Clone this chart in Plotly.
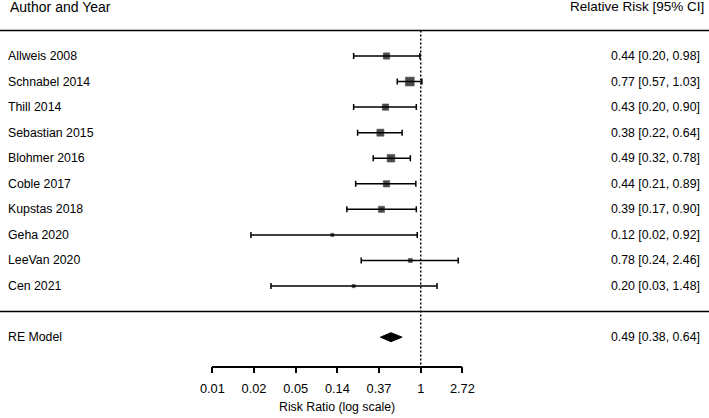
import numpy as np
import plotly.graph_objects as go

# ---------------- data ----------------
studies = ["Allweis 2008", "Schnabel 2014", "Thill 2014", "Sebastian 2015", "Blohmer 2016",
           "Coble 2017", "Kupstas 2018", "Geha 2020", "LeeVan 2020", "Cen 2021"]
rr = [0.44, 0.77, 0.43, 0.38, 0.49, 0.44, 0.39, 0.12, 0.78, 0.20]
ci_lo = [0.20, 0.57, 0.20, 0.22, 0.32, 0.21, 0.17, 0.017, 0.24, 0.0275]
ci_hi = [0.98, 1.03, 0.90, 0.64, 0.78, 0.89, 0.90, 0.92, 2.46, 1.48]

re_label = "RE Model"
re_est, re_lo, re_hi = 0.49, 0.38, 0.64

tick_exponents = [-5, -4, -3, -2, -1, 0, 1]
tick_labels = ["0.01", "0.02", "0.05", "0.14", "0.37", "1", "2.72"]

header_left = "Author and Year"
header_right = "Relative Risk [95% CI]"
axis_title = "Risk Ratio (log scale)"

# ---------------- style ----------------
marker_sizes = [6.3, 8.8, 6.3, 7, 7.6, 6.3, 6.1, 3.2, 4, 3.2]
FONT = "Liberation Sans, Arial, Helvetica, sans-serif"
W, H = 709, 418
LOG10E = np.log10(np.e)

k = len(studies)
rows = list(range(k, 0, -1))
re_row = -1

# pixel mapping -> axis ranges
px_zero, px_per_ln = 420.7, 41.67
x_range = [(-px_zero / px_per_ln) * LOG10E, ((W - px_zero) / px_per_ln) * LOG10E]
py_row0, py_per_row = 311.6, 25.56
y_range = [(py_row0 - H) / py_per_row, py_row0 / py_per_row]
axis_row = (py_row0 - 366.7) / py_per_row

fig = go.Figure()

# reference line at RR = 1
fig.add_trace(go.Scatter(x=[1, 1], y=[k + 1, axis_row], mode="lines",
                         line=dict(color="black", width=1.5, dash="2px,2px"),
                         hoverinfo="skip", showlegend=False))

# study estimates with CIs
fig.add_trace(go.Scatter(
    x=rr, y=rows, mode="markers",
    marker=dict(symbol="square", size=marker_sizes, color="black",
                line=dict(width=0.6, color="black")),
    error_x=dict(type="data", symmetric=False,
                 array=[h - e for h, e in zip(ci_hi, rr)],
                 arrayminus=[e - l for e, l in zip(rr, ci_lo)],
                 color="black", thickness=1.5, width=3),
    showlegend=False, hoverinfo="skip"))

# summary diamond
dh = 0.175
fig.add_trace(go.Scatter(
    x=[re_lo, re_est, re_hi, re_est, re_lo],
    y=[re_row, re_row + dh, re_row, re_row - dh, re_row],
    mode="lines", fill="toself", fillcolor="black",
    line=dict(color="black", width=1), showlegend=False, hoverinfo="skip"))

# dummy trace for the bottom axis
fig.add_trace(go.Scatter(x=[1], y=[None], xaxis="x2", yaxis="y", mode="markers",
                         showlegend=False, hoverinfo="skip"))

# horizontal rules
for yr in (k + 1, 0):
    fig.add_shape(type="line", xref="paper", x0=0, x1=1, yref="y", y0=yr, y1=yr,
                  line=dict(color="black", width=1.5))

ann = []
body = dict(family=FONT, size=12.3, color="black")
for name, r, e, l, h in zip(studies, rows, rr, ci_lo, ci_hi):
    ann.append(dict(text=name, xref="paper", x=6 / W, xanchor="left", yref="y", y=r,
                    yanchor="middle", showarrow=False, font=body))
    ann.append(dict(text=f"{e:.2f} [{l:.2f}, {h:.2f}]", xref="paper", x=702 / W,
                    xanchor="right", yref="y", y=r, yanchor="middle", showarrow=False, font=body))
ann.append(dict(text=re_label, xref="paper", x=6 / W, xanchor="left", yref="y", y=re_row,
                yanchor="middle", showarrow=False, font=body))
ann.append(dict(text=f"{re_est:.2f} [{re_lo:.2f}, {re_hi:.2f}]", xref="paper", x=702 / W,
                xanchor="right", yref="y", y=re_row, yanchor="middle", showarrow=False, font=body))
ann.append(dict(text=header_left, xref="paper", x=8 / W, xanchor="left", yref="y", y=11.92,
                yanchor="middle", showarrow=False, font=dict(family=FONT, size=14, color="black")))
ann.append(dict(text=header_right, xref="paper", x=706 / W, xanchor="right", yref="y", y=11.92,
                yanchor="middle", showarrow=False, font=dict(family=FONT, size=13.5, color="black")))
ann.append(dict(text=axis_title, xref="paper", x=(px_zero - 83.5) / W, xanchor="center",
                yref="y", y=(py_row0 - 407) / py_per_row, yanchor="middle", showarrow=False,
                font=dict(family=FONT, size=12.3, color="black")))

lo_px = px_zero + tick_exponents[0] * px_per_ln
hi_px = px_zero + tick_exponents[-1] * px_per_ln

fig.update_layout(
    template="none",
    width=W, height=H, autosize=False, margin=dict(l=0, r=0, t=0, b=0, pad=0),
    paper_bgcolor="white", plot_bgcolor="rgba(0,0,0,0)",
    annotations=ann,
    xaxis=dict(type="log", range=x_range, domain=[0, 1], visible=False, fixedrange=True,
               automargin=False),
    yaxis=dict(range=y_range, domain=[0, 1], visible=False, fixedrange=True,
               automargin=False),
    xaxis2=dict(type="log", domain=[lo_px / W, hi_px / W],
                range=[tick_exponents[0] * LOG10E, tick_exponents[-1] * LOG10E],
                anchor="free", position=1 - 366.7 / H, automargin=False,
                tickvals=list(np.exp(tick_exponents)), ticktext=tick_labels,
                ticks="outside", ticklen=6, tickwidth=1.5, tickcolor="black",
                showline=True, linewidth=1.5, linecolor="black",
                showgrid=False, zeroline=False, ticklabelstandoff=4,
                tickfont=dict(family=FONT, size=12.8, color="black"), fixedrange=True),
    font=dict(family=FONT, color="black"),
)

fig.write_html(
    "out.html",
    config={"displayModeBar": False, "responsive": False},
    post_script="document.body.style.margin='0';document.body.style.padding='0';"
                "document.body.style.overflow='hidden';",
)
